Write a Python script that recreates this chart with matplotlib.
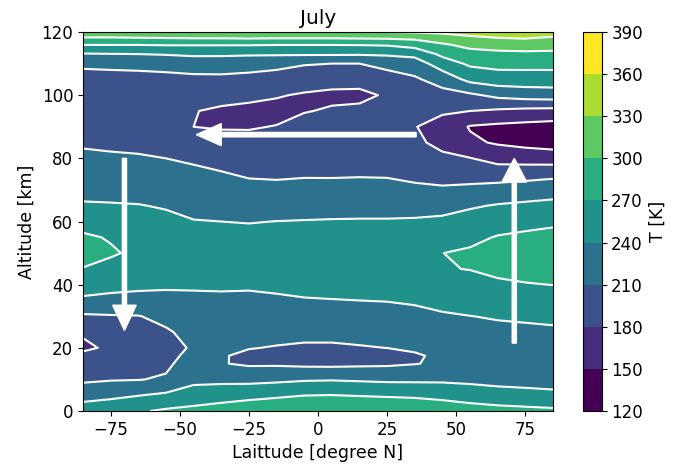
import numpy as np
import matplotlib.pyplot as plt

lat = [-85, -75, -65, -55, -45, -35, -25, -15, -5, 5, 15, 25, 35, 45, 55, 65, 75, 85]
alt = [0, 5, 10, 15, 17.5, 20, 25, 30, 35, 40, 45, 50, 55, 60, 65, 70, 75, 80, 85,
       90, 95, 100, 105, 110, 113, 116, 118, 120]

# temperature profiles [K] at each latitude, from the ground up
t_s85 = [255, 229, 205, 200, 190, 172, 185, 206, 235, 253, 269, 280, 274, 260, 243, 232, 224, 215, 207, 201, 195, 199, 204, 213, 238, 271, 297, 318]
t_s75 = [258, 234, 208, 198, 192, 187, 196, 208, 232, 249, 262, 273, 268, 255, 242, 232, 222, 213, 206, 200, 194, 199, 204, 214, 239, 271, 297, 318]
t_s65 = [267, 239, 209, 200, 195, 190, 200, 209, 231, 246, 255, 265, 257, 249, 241, 231, 221, 212, 205, 198, 192, 198, 204, 215, 240, 271, 298, 320]
t_s55 = [274, 245, 213, 205, 202, 201, 207, 217, 232, 244, 253, 262, 254, 246, 238, 229, 219, 210, 204, 198, 192, 198, 205, 216, 242, 272, 299, 322]
t_s45 = [279, 251, 234, 223, 218, 213, 218, 227, 235, 243, 251, 258, 250, 241, 233, 224, 216, 206, 193, 180, 181, 193, 204, 222, 245, 272, 300, 323]
t_s35 = [284, 257, 233, 211.5, 212, 216, 223, 229, 236, 243, 249, 255, 247, 240, 230, 221, 212, 201, 189, 178, 176, 189, 203, 225, 244, 272, 300, 324]
t_s25 = [290, 261, 232, 206, 205, 211, 219, 227, 235, 243, 249, 255, 247, 239, 228, 218, 207, 198, 188, 178, 173.5, 186, 201, 222, 243, 272, 301, 325]
t_s15 = [295, 265, 234, 206, 200.7, 208.6, 218, 227.5, 237, 244, 251, 254.6, 247, 240.3, 229, 217, 206, 198, 190, 181, 172, 182, 198, 218, 243, 271, 300, 326]
t_s05 = [299, 269.4, 237, 203.6, 197, 206, 218, 228, 238.6, 246, 253, 254.4, 248, 241, 230, 218, 207.5, 200.6, 194, 187, 179, 177.4, 193, 212, 243, 271, 300, 327]
t_n05 = [299.5, 270.3, 238, 203, 196, 206, 218, 229, 239.4, 246, 253, 254.4, 248, 241.7, 230.5, 218, 207.4, 201, 194.7, 188.3, 182, 176, 187, 210, 243, 271, 300, 328]
t_n15 = [299, 268.4, 236.3, 204.4, 198, 208.1, 219.3, 229.7, 240, 246.5, 253, 254.5, 248, 242, 231, 218.4, 208, 202, 196, 190, 183.6, 176, 186, 210, 242.5, 271.5, 301, 329]
t_n25 = [298, 266.5, 234.5, 205.6, 201, 210.2, 220.6, 231, 240.75, 247, 253.3, 254.5, 248.25, 242, 231, 217.5, 207.7, 202.6, 197.4, 192.3, 187, 182, 197.6, 218.6, 244, 273, 302, 330]
t_n35 = [296, 264.7, 234.6, 209, 207, 214, 224, 233.7, 242.7, 250, 257.5, 258.8, 250.8, 243, 230, 215, 204, 194.6, 185.5, 181, 190.8, 198.5, 206, 225.6, 248, 282, 305, 332]
t_n45 = [290, 261, 235, 214, 215, 220, 228.7, 237.4, 246.6, 256, 268.5, 269.8, 255, 245, 231.4, 214, 199.4, 185.6, 172.5, 170, 183.3, 200, 222, 255, 276.7, 296.7, 315, 335]
t_n55 = [283, 257, 233, 218.4, 222, 225.5, 232.6, 239.7, 250, 260.6, 270.75, 273.75, 263.6, 251, 237, 217, 198, 181, 155, 148, 180, 205, 248, 275, 290, 308, 324, 340]
t_n65 = [279, 254, 229, 223.5, 226.4, 229, 235, 241.7, 254, 266, 275.6, 280.3, 271.7, 257.5, 242, 221, 196.7, 170, 147, 144, 175.7, 217, 256, 279, 293, 312, 328.6, 345]
t_n75 = [277, 251.5, 227, 226, 228.5, 231, 236, 242.8, 255.8, 268.7, 278, 283.3, 274.8, 262.4, 245.2, 224.6, 199, 167.5, 141.6, 141.4, 172, 223, 256, 279.5, 294, 314, 331, 348]
t_n85 = [275, 249, 224, 228, 230.5, 232.6, 237, 244, 257, 270.3, 279.5, 285.3, 276.7, 266, 248, 228, 202.5, 165, 138, 138.4, 170.6, 225, 256, 279.5, 294, 311, 323.6, 350]

levels = [120, 150, 180, 210, 240, 270, 300, 330, 360, 390]
lat_ticks = [-75, -50, -25, 0, 25, 50, 75]

# circulation arrows: (x start, y start, x end, y end)
arrow_down = (-70, 80, -70, 25.5)
arrow_left = (35.5, 87.5, -44, 87.5)
arrow_up = (71, 21.5, 71, 80)

# ----- build the grid -----
T = np.array([t_s85, t_s75, t_s65, t_s55, t_s45, t_s35, t_s25, t_s15, t_s05,
              t_n05, t_n15, t_n25, t_n35, t_n45, t_n55, t_n65, t_n75, t_n85]).T

# one viridis colour per band, end to end (old-style contourf colouring)
band_colors = plt.cm.viridis(np.linspace(0, 1, len(levels) - 1))

# ----- plot -----
plt.rcParams['font.size'] = 12

fig = plt.figure(figsize=(6.73, 4.70), dpi=100)
ax = fig.add_axes([0.1233, 0.1255, 0.6984, 0.8064])
cax = fig.add_axes([0.8663, 0.1255, 0.0275, 0.8064])

cf = ax.contourf(lat, alt, T, levels=levels, colors=band_colors)
ax.contour(lat, alt, T, levels=levels, colors='white', linewidths=1.5)

cb = fig.colorbar(cf, cax=cax)
cb.set_label('T [K]', fontsize=12.5)

def draw_arrow(a, width, head_width, head_length):
    x0, y0, x1, y1 = a
    ax.arrow(x0, y0, x1 - x0, y1 - y0, width=width, head_width=head_width,
             head_length=head_length, length_includes_head=True,
             fc='white', ec='white', zorder=3)

draw_arrow(arrow_down, 1.5, 8.5, 8)
draw_arrow(arrow_left, 1.4, 7, 9)
draw_arrow(arrow_up, 1.5, 9, 7.5)

ax.set_xticks(lat_ticks)
ax.set_title('July', fontsize=14.5)
ax.set_xlabel('Laittude [degree N]', fontsize=12.5)
ax.set_ylabel('Altitude [km]', fontsize=12.5)

fig.savefig('out.png', dpi=100)
plt.close(fig)
